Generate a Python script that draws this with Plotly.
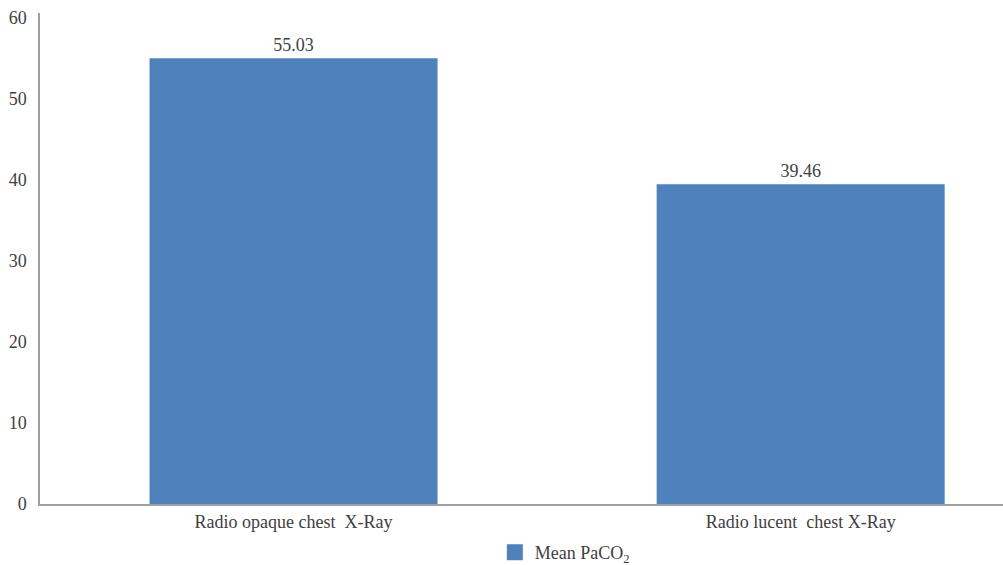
import plotly.graph_objects as go

categories = ["Radio opaque chest  X-Ray", "Radio lucent  chest X-Ray"]
mean_paco2 = [55.03, 39.46]
value_labels = ["55.03", "39.46"]
series_name = "Mean PaCO<sub>2</sub>"

font_family = "Liberation Serif, DejaVu Serif, serif"
bar_color = "#4f81bd"

fig = go.Figure()
fig.add_trace(go.Bar(
    x=[0, 1],
    y=mean_paco2,
    name=series_name,
    width=0.568,
    marker=dict(color=bar_color, line=dict(width=0)),
    text=value_labels,
    textposition="outside",
    textfont=dict(family=font_family, size=18, color="#404040"),
    cliponaxis=False,
    showlegend=False,
))
# legend swatch (larger square like the reference)
fig.add_trace(go.Scatter(
    x=[None], y=[None], mode="markers", name=series_name,
    marker=dict(symbol="square", size=20, color=bar_color),
    showlegend=True,
))

fig.update_layout(
    width=1003, height=565,
    margin=dict(l=40, r=0, t=13, b=61, autoexpand=False),
    paper_bgcolor="white", plot_bgcolor="white",
    font=dict(family=font_family, size=18, color="#404040"),
    showlegend=True,
    legend=dict(orientation="h", x=0.545, xanchor="center",
                yref="container", y=0.022, yanchor="middle",
                itemsizing="trace",
                font=dict(family=font_family, size=18, color="#404040")),
    xaxis=dict(
        range=[-0.5, 1.399],
        tickmode="array", tickvals=[0, 1], ticktext=categories,
        showline=True, linecolor="#a0a0a0", linewidth=2,
        showgrid=False, zeroline=False, ticks="", automargin=False,
    ),
    yaxis=dict(
        range=[0, 60.6],
        tickmode="array", tickvals=[0, 10, 20, 30, 40, 50, 60],
        showline=True, linecolor="#a0a0a0", linewidth=1.5,
        showgrid=False, zeroline=False, ticks="", ticklabelstandoff=8,
        automargin=False,
    ),
)

fig.write_html("out.html")
